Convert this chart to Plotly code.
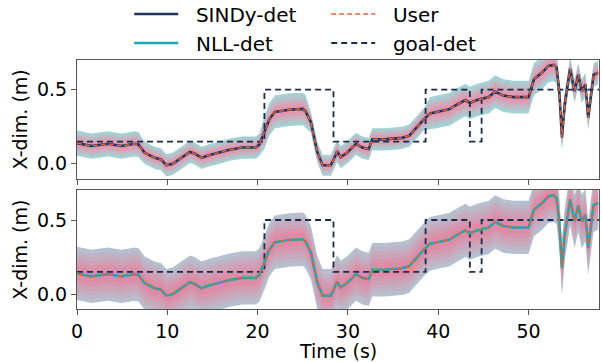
import numpy as np
import plotly.graph_objects as go
from plotly.subplots import make_subplots

# ---- data ----
t = [0, 1.6, 3.4, 4.9, 6.4, 6.8, 7.5, 8.6, 9.3, 9.9, 10.6, 11.5, 12.5, 13.0, 13.8, 14.5,
     15.8, 16.9, 18.3, 19.8, 20.2, 20.75, 21.3, 21.9, 23.5, 25.0, 25.3, 25.9, 26.6, 27.2,
     28.1, 28.65, 28.8, 29.2, 29.9, 30.9, 31.6, 32.3, 32.7, 34.0, 35.1, 36.0, 36.8, 38.4,
     39.1, 40.2, 41.2, 42.1, 43.0, 43.5, 44.3, 45.6, 46.3, 47.2, 48.3, 50.0, 50.6, 51.5,
     52.2, 52.8, 53.1, 53.4, 53.7, 54.0, 54.6, 55.1, 55.5, 55.9, 56.3, 56.6, 57.2, 57.7]
user = [0.14, 0.12, 0.135, 0.12, 0.135, 0.13, 0.074, 0.04, 0.03, -0.01, 0.0, 0.04, 0.08,
        0.07, 0.04, 0.056, 0.075, 0.095, 0.11, 0.11, 0.13, 0.21, 0.30, 0.35, 0.365, 0.37,
        0.355, 0.28, 0.08, -0.01, -0.01, 0.06, 0.085, 0.045, 0.075, 0.135, 0.11, 0.10,
        0.165, 0.165, 0.17, 0.175, 0.19, 0.30, 0.34, 0.355, 0.367, 0.40, 0.43, 0.41, 0.43,
        0.45, 0.487, 0.46, 0.45, 0.45, 0.57, 0.615, 0.66, 0.667, 0.65, 0.49, 0.175, 0.40,
        0.64, 0.49, 0.60, 0.49, 0.535, 0.31, 0.60, 0.615]
sindy_det = user
nll_det = user
sindy_std = [0.085]*6 + [0.075]*15 + [0.11]*6 + [0.07]*5 + [0.075]*12 + [0.11]*17 + [0.08]*11
nll_std = [0.18]*72

goal_t = [0, 20.75, 28.4, 38.6, 43.5, 44.8, 57.8]
goal_v = [0.15, 0.5, 0.15, 0.5, 0.15, 0.5, 0.5]

x_ticks = [0, 10, 20, 30, 40, 50]
y_ticks = [0.0, 0.5]

# ---- figure ----
fig = make_subplots(rows=2, cols=1, shared_xaxes=False, vertical_spacing=0.047)

def mix(c1, c2, f):
    return "rgb(%d,%d,%d)" % tuple(round(a + (b - a) * f) for a, b in zip(c1, c2))

def band(row, mean, std, edge, inner):
    m = np.array(mean, float)
    s = np.array(std, float)
    ks = [1.0, 0.85, 0.7, 0.55, 0.4, 0.25]
    for i, k in enumerate(ks):
        f = i / (len(ks) - 1)
        up = m + k * s
        lo = m - k * s
        fig.add_trace(go.Scatter(x=list(t) + list(t)[::-1], y=list(up) + list(lo[::-1]),
                                 fill="toself", fillcolor=mix(edge, inner, f),
                                 line=dict(width=0), mode="lines", hoverinfo="skip",
                                 showlegend=False), row=row, col=1)

band(1, sindy_det, sindy_std, (162, 212, 214), (228, 150, 175))
band(2, nll_det, nll_std, (182, 192, 206), (222, 140, 166))

navy = "#1f355e"
orange = "#e0643c"
goaln = "#1b2b4e"
teal = "#17a9b9"
sp = "\u00a0\u00a0"

# top panel
fig.add_trace(go.Scatter(x=goal_t, y=goal_v, mode="lines", line=dict(color=goaln, width=1.8, dash="6px,4px", shape="hv"),
                         name=sp + "goal-det", legendrank=4), row=1, col=1)
fig.add_trace(go.Scatter(x=t, y=sindy_det, mode="lines", line=dict(color=navy, width=2.6),
                         name=sp + "SINDy-det", legendrank=1), row=1, col=1)
fig.add_trace(go.Scatter(x=t, y=user, mode="lines", line=dict(color=orange, width=1.5, dash="5px,3px"),
                         name=sp + "User", legendrank=2), row=1, col=1)
# bottom panel
fig.add_trace(go.Scatter(x=goal_t, y=goal_v, mode="lines", line=dict(color=goaln, width=1.8, dash="6px,4px", shape="hv"),
                         showlegend=False), row=2, col=1)
fig.add_trace(go.Scatter(x=t, y=nll_det, mode="lines", line=dict(color=teal, width=2.6),
                         name=sp + "NLL-det", legendrank=3), row=2, col=1)
fig.add_trace(go.Scatter(x=t, y=user, mode="lines", line=dict(color=orange, width=1.5, dash="5px,3px"),
                         showlegend=False), row=2, col=1)

font = dict(family="DejaVu Sans", size=19, color="black")
axcommon = dict(showline=True, linecolor="#555", linewidth=1, mirror=True, showgrid=False,
                zeroline=False, ticks="outside", ticklen=5, tickcolor="#555", tickfont=font)
fig.update_xaxes(range=[0, 57.8], tickvals=x_ticks, **axcommon)
fig.update_xaxes(showticklabels=False, row=1, col=1)
fig.update_yaxes(range=[-0.1, 0.7], tickvals=y_ticks, tickformat=".1f",
                 title=dict(text="X-dim. (m)", font=font, standoff=4), **axcommon)

fig.add_annotation(text="Time (s)", xref="paper", yref="paper", x=0.5, y=-0.17,
                   xanchor="center", yanchor="middle", showarrow=False, font=font)

fig.update_layout(
    width=602, height=362,
    margin=dict(l=77, r=3, t=60, b=53, autoexpand=False),
    paper_bgcolor="white", plot_bgcolor="white",
    font=font,
    showlegend=True,
    legend=dict(orientation="h", x=0.1, xanchor="left", yref="paper", y=1.263, yanchor="top",
                entrywidth=138, entrywidthmode="pixels", itemwidth=44,
                font=dict(family="DejaVu Sans", size=20, color="black"),
                bgcolor="rgba(0,0,0,0)", traceorder="normal"),
)

fig.write_html("out.html")
